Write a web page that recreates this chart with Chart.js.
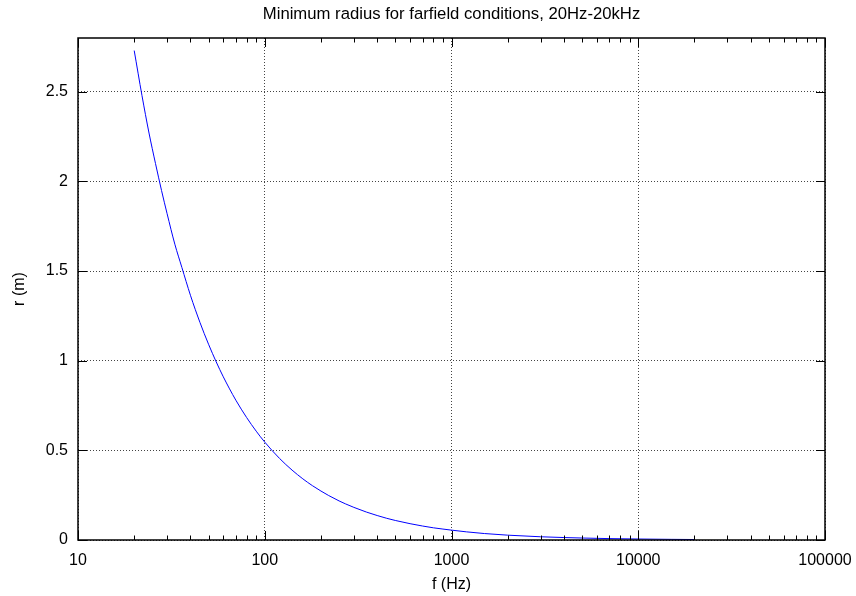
<!DOCTYPE html>
<html>
<head>
<meta charset="utf-8">
<title>Minimum radius for farfield conditions</title>
<script src="https://cdn.jsdelivr.net/npm/chart.js@4.4.1/dist/chart.umd.min.js"></script>
<style>
  body { margin: 0; background: #fff; }
  #wrap { width: 856px; height: 596px; }
</style>
</head>
<body>
<div id="wrap"><canvas id="farfield" width="856" height="596"></canvas></div>
<script>
// frequency (Hz) and minimum radius (m)
const freqs = [20, 22, 24, 26, 28, 30, 33, 36, 40, 45, 50, 55, 60, 70, 80, 90, 100,
  120, 140, 160, 180, 200, 220, 250, 270, 300, 350, 400, 450, 500, 600, 700, 800,
  900, 1000, 1200, 1500, 2000, 3000, 4000, 5000, 7000, 10000, 15000, 20000];
const radius = [2.73, 2.48, 2.27, 2.10, 1.95, 1.82, 1.65, 1.52, 1.365, 1.213, 1.092, 0.993,
  0.91, 0.78, 0.683, 0.607, 0.546, 0.455, 0.39, 0.341, 0.303, 0.273, 0.248, 0.218, 0.202,
  0.182, 0.156, 0.1365, 0.121, 0.109, 0.091, 0.078, 0.068, 0.061, 0.055, 0.0455, 0.036,
  0.027, 0.018, 0.0137, 0.011, 0.0078, 0.0055, 0.0036, 0.0027];

const xTicks = [10, 20, 30, 40, 50, 60, 70, 80, 90,
  100, 200, 300, 400, 500, 600, 700, 800, 900,
  1000, 2000, 3000, 4000, 5000, 6000, 7000, 8000, 9000,
  10000, 20000, 30000, 40000, 50000, 60000, 70000, 80000, 90000, 100000];
const yTicks = [0, 0.5, 1, 1.5, 2, 2.5];

const chartTitle = "Minimum radius for farfield conditions, 20Hz-20kHz";

const points = freqs.map((f, i) => ({ x: f, y: radius[i] }));

function isDecade(v) {
  const l = Math.log10(v);
  return Math.abs(l - Math.round(l)) < 1e-9;
}

Chart.defaults.font.family = '"Liberation Sans", Arial, sans-serif';
Chart.defaults.font.size = 16;
Chart.defaults.color = "#000";

// gnuplot-like frame, inward ticks and title
const framePlugin = {
  id: "frame",
  afterDraw(chart) {
    const ctx = chart.ctx;
    const a = chart.chartArea;
    const xs = chart.scales.x, ys = chart.scales.y;
    ctx.save();
    ctx.strokeStyle = "#000";
    ctx.lineWidth = 1;
    ctx.beginPath();
    xs.ticks.forEach((t) => {
      const px = Math.round(xs.getPixelForValue(t.value)) + 0.5;
      const len = isDecade(t.value) ? 9 : 4.5;
      ctx.moveTo(px, a.bottom);
      ctx.lineTo(px, a.bottom - len);
      ctx.moveTo(px, a.top);
      ctx.lineTo(px, a.top + len);
    });
    ys.ticks.forEach((t) => {
      const py = Math.round(ys.getPixelForValue(t.value)) + 0.5;
      ctx.moveTo(a.left, py);
      ctx.lineTo(a.left + 9, py);
      ctx.moveTo(a.right, py);
      ctx.lineTo(a.right - 9, py);
    });
    ctx.stroke();
    ctx.lineWidth = 1.5;
    ctx.strokeRect(a.left, a.top, a.right - a.left, a.bottom - a.top);
    ctx.fillStyle = "#000";
    ctx.font = '16.7px "Liberation Sans", Arial, sans-serif';
    ctx.textAlign = "center";
    ctx.textBaseline = "middle";
    ctx.fillText(chartTitle, (a.left + a.right) / 2, 14);
    ctx.restore();
  }
};

new Chart(document.getElementById("farfield"), {
  type: "scatter",
  data: {
    datasets: [{
      data: points,
      showLine: true,
      borderColor: "rgb(0, 0, 255)",
      borderWidth: 1,
      pointRadius: 0,
      cubicInterpolationMode: "monotone",
      fill: false
    }]
  },
  options: {
    responsive: false,
    animation: false,
    layout: { padding: { left: 0, right: 31, top: 38, bottom: 0 } },
    plugins: {
      legend: { display: false },
      tooltip: { enabled: false },
      title: { display: false }
    },
    scales: {
      x: {
        type: "logarithmic",
        min: 10,
        max: 100000,
        afterBuildTicks: (scale) => { scale.ticks = xTicks.map((v) => ({ value: v })); },
        afterFit: (scale) => {
          scale.height = 56;
          scale.paddingLeft = 0;
          scale.paddingRight = 0;
        },
        ticks: {
          autoSkip: false,
          maxRotation: 0,
          padding: 11,
          callback: (v) => (isDecade(v) ? String(v) : "")
        },
        grid: {
          drawTicks: false,
          color: (c) => (c.tick && isDecade(c.tick.value) ? "#444" : "rgba(0,0,0,0)")
        },
        border: { display: false, dash: [1, 2] },
        title: { display: true, text: "f (Hz)", padding: 2 }
      },
      y: {
        min: 0,
        max: 2.8,
        afterBuildTicks: (scale) => { scale.ticks = yTicks.map((v) => ({ value: v })); },
        afterFit: (scale) => {
          scale.width = 78;
          scale.paddingTop = 0;
          scale.paddingBottom = 0;
        },
        ticks: {
          padding: 10,
          callback: (v) => String(v)
        },
        grid: { drawTicks: false, color: "#444" },
        border: { display: false, dash: [1, 2] },
        title: { display: true, text: "r (m)", padding: 10 }
      }
    }
  },
  plugins: [framePlugin]
});
</script>
</body>
</html>
